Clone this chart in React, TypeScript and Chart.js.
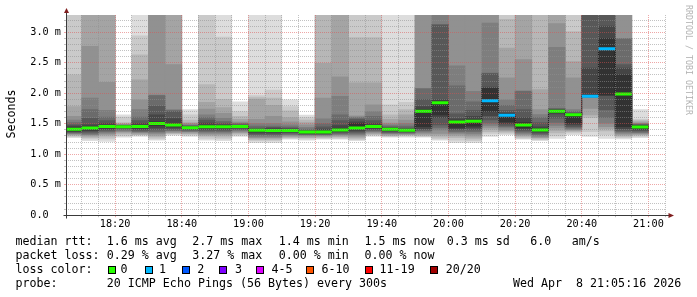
import React, { useEffect, useRef } from 'react';
import { Chart, registerables } from 'chart.js';

Chart.register(...registerables);

// ---------------- data ----------------
const windowStart = '18:05:16';
const windowEnd = '21:05:16';

// end time of each 5-minute sample (35 samples)
const slotEnds = [
  '18:10', '18:15', '18:20', '18:25', '18:30', '18:35', '18:40', '18:45', '18:50', '18:55',
  '19:00', '19:05', '19:10', '19:15', '19:20', '19:25', '19:30', '19:35', '19:40', '19:45',
  '19:50', '19:55', '20:00', '20:05', '20:10', '20:15', '20:20', '20:25', '20:30', '20:35',
  '20:40', '20:45', '20:50', '20:55', '21:00',
];

// median round trip time per sample (ms)
const medianRtt = [
  1.41, 1.43, 1.456, 1.45, 1.456, 1.505, 1.48, 1.434, 1.45, 1.45,
  1.456, 1.393, 1.387, 1.387, 1.362, 1.362, 1.395, 1.428, 1.456, 1.411,
  1.393, 1.705, 1.845, 1.527, 1.541, 1.878, 1.64, 1.48, 1.398, 1.705,
  1.645, 1.949, 2.727, 1.987, 1.447,
];

// lost pings (of 20) per sample
const lostPings = [
  0, 0, 0, 0, 0, 0, 0, 0, 0, 0,
  0, 0, 0, 0, 0, 0, 0, 0, 0, 0,
  0, 0, 0, 0, 0, 1, 1, 0, 0, 0,
  0, 1, 1, 0, 0,
];

// the 20 sorted ping rtts (ms) of each sample; values above the plot top are off-scale
const pingRtts = [
  [1.27, 1.29, 1.30, 1.32, 1.33, 1.34, 1.35, 1.36, 1.37, 1.39, 1.43, 1.46, 1.48, 1.52, 1.56, 1.62, 1.78, 2.30, 3.40, 3.50],
  [1.22, 1.25, 1.27, 1.29, 1.31, 1.32, 1.34, 1.36, 1.38, 1.40, 1.45, 1.48, 1.59, 1.73, 1.92, 2.77, 3.50, 3.50, 3.50, 3.50],
  [1.21, 1.25, 1.28, 1.31, 1.33, 1.35, 1.37, 1.39, 1.41, 1.43, 1.47, 1.50, 1.55, 1.61, 1.72, 2.18, 3.50, 3.50, 3.50, 3.50],
  [1.28, 1.30, 1.33, 1.35, 1.37, 1.38, 1.40, 1.42, 1.43, 1.44, 1.46, 1.465, 1.47, 1.475, 1.48, 1.49, 1.50, 1.52, 1.61, 1.645],
  [1.29, 1.31, 1.32, 1.33, 1.35, 1.36, 1.37, 1.39, 1.41, 1.43, 1.47, 1.50, 1.55, 1.61, 1.73, 1.89, 2.22, 2.63, 2.94, 3.50],
  [1.23, 1.25, 1.28, 1.30, 1.33, 1.35, 1.37, 1.40, 1.43, 1.47, 1.53, 1.645, 1.79, 1.96, 1.97, 3.50, 3.50, 3.50, 3.50, 3.50],
  [1.31, 1.33, 1.34, 1.35, 1.36, 1.38, 1.39, 1.41, 1.43, 1.46, 1.50, 1.585, 1.70, 1.72, 1.73, 2.47, 3.50, 3.50, 3.50, 3.50],
  [1.29, 1.31, 1.33, 1.34, 1.36, 1.37, 1.38, 1.40, 1.41, 1.42, 1.44, 1.45, 1.46, 1.47, 1.48, 1.50, 1.52, 1.56, 1.645, 1.73],
  [1.23, 1.26, 1.29, 1.31, 1.33, 1.35, 1.37, 1.39, 1.41, 1.43, 1.47, 1.51, 1.56, 1.60, 1.645, 1.74, 1.85, 2.14, 3.50, 3.50],
  [1.22, 1.25, 1.28, 1.31, 1.33, 1.35, 1.37, 1.39, 1.41, 1.43, 1.46, 1.48, 1.51, 1.54, 1.59, 1.67, 1.765, 1.90, 2.92, 3.50],
  [1.29, 1.31, 1.33, 1.35, 1.36, 1.38, 1.40, 1.41, 1.43, 1.44, 1.465, 1.47, 1.48, 1.50, 1.51, 1.53, 1.57, 1.62, 1.70, 1.86],
  [1.19, 1.22, 1.24, 1.26, 1.27, 1.29, 1.31, 1.33, 1.35, 1.37, 1.40, 1.41, 1.43, 1.46, 1.50, 1.57, 1.90, 1.93, 1.96, 3.50],
  [1.19, 1.22, 1.24, 1.26, 1.27, 1.29, 1.31, 1.33, 1.35, 1.37, 1.40, 1.42, 1.44, 1.46, 1.50, 1.62, 1.80, 1.92, 2.05, 3.50],
  [1.245, 1.26, 1.27, 1.29, 1.30, 1.32, 1.33, 1.35, 1.36, 1.37, 1.40, 1.41, 1.43, 1.45, 1.48, 1.53, 1.60, 1.71, 1.78, 1.89],
  [1.23, 1.25, 1.27, 1.28, 1.30, 1.31, 1.32, 1.33, 1.34, 1.35, 1.37, 1.38, 1.39, 1.41, 1.44, 1.48, 1.52, 1.56, 1.60, 1.64],
  [1.245, 1.26, 1.27, 1.29, 1.30, 1.31, 1.32, 1.33, 1.34, 1.35, 1.375, 1.41, 1.45, 1.50, 1.58, 1.92, 2.49, 3.50, 3.50, 3.50],
  [1.245, 1.26, 1.28, 1.29, 1.31, 1.32, 1.34, 1.35, 1.37, 1.38, 1.42, 1.47, 1.55, 1.645, 1.95, 2.27, 3.50, 3.50, 3.50, 3.50],
  [1.22, 1.24, 1.26, 1.28, 1.30, 1.32, 1.34, 1.36, 1.38, 1.41, 1.50, 1.53, 1.57, 1.595, 1.61, 1.63, 2.17, 2.91, 3.50, 3.50],
  [1.29, 1.31, 1.32, 1.34, 1.35, 1.37, 1.38, 1.40, 1.42, 1.44, 1.47, 1.50, 1.55, 1.62, 1.70, 1.81, 2.17, 2.91, 3.50, 3.50],
  [1.28, 1.29, 1.30, 1.31, 1.33, 1.34, 1.35, 1.36, 1.38, 1.40, 1.42, 1.43, 1.44, 1.46, 1.48, 1.51, 1.57, 1.645, 1.81, 3.50],
  [1.28, 1.295, 1.31, 1.32, 1.33, 1.34, 1.35, 1.36, 1.37, 1.38, 1.40, 1.41, 1.43, 1.46, 1.50, 1.56, 1.645, 1.73, 1.85, 3.50],
  [1.28, 1.29, 1.30, 1.32, 1.34, 1.36, 1.38, 1.40, 1.42, 1.45, 1.73, 1.78, 1.90, 2.07, 2.08, 3.50, 3.50, 3.50, 3.50, 3.50],
  [1.23, 1.25, 1.28, 1.31, 1.34, 1.40, 1.44, 1.48, 1.60, 1.645, 1.87, 1.89, 3.12, 3.12, 3.50, 3.50, 3.50, 3.50, 3.50, 3.50],
  [1.19, 1.23, 1.27, 1.30, 1.33, 1.35, 1.37, 1.40, 1.42, 1.44, 1.55, 1.58, 1.66, 2.12, 2.45, 3.50, 3.50, 3.50, 3.50, 3.50],
  [1.19, 1.22, 1.25, 1.28, 1.31, 1.34, 1.37, 1.40, 1.43, 1.46, 1.565, 1.62, 1.72, 1.86, 2.03, 3.50, 3.50, 3.50, 3.50, 3.50],
  [1.29, 1.34, 1.37, 1.41, 1.44, 1.47, 1.51, 1.56, 1.63, 1.70, 2.08, 2.10, 2.32, 2.33, 3.15, 3.50, 3.50, 3.50, 3.50, 3.50],
  [1.32, 1.34, 1.36, 1.38, 1.40, 1.43, 1.45, 1.47, 1.50, 1.53, 1.66, 1.68, 1.72, 1.80, 1.89, 2.25, 2.74, 3.21, 3.50, 3.50],
  [1.245, 1.26, 1.28, 1.30, 1.32, 1.34, 1.36, 1.38, 1.41, 1.43, 1.52, 1.60, 1.73, 2.03, 2.04, 2.55, 3.50, 3.50, 3.50, 3.50],
  [1.22, 1.24, 1.25, 1.27, 1.28, 1.30, 1.32, 1.34, 1.36, 1.38, 1.41, 1.45, 1.52, 1.60, 1.65, 1.73, 2.06, 3.50, 3.50, 3.50],
  [1.26, 1.30, 1.35, 1.39, 1.43, 1.47, 1.52, 1.59, 1.66, 1.68, 1.72, 1.73, 1.74, 1.75, 2.75, 3.14, 3.50, 3.50, 3.50, 3.50],
  [1.32, 1.35, 1.37, 1.39, 1.40, 1.41, 1.43, 1.45, 1.48, 1.51, 1.655, 1.665, 1.68, 1.70, 1.73, 2.25, 2.52, 3.01, 3.50, 3.50],
  [1.29, 1.37, 1.60, 1.645, 1.75, 1.93, 1.935, 1.94, 1.942, 1.945, 1.97, 2.41, 3.50, 3.50, 3.50, 3.50, 3.50, 3.50, 3.50, 3.50],
  [1.26, 1.32, 1.38, 1.42, 1.45, 1.51, 1.60, 1.73, 1.96, 1.97, 2.90, 3.10, 3.50, 3.50, 3.50, 3.50, 3.50, 3.50, 3.50, 3.50],
  [1.25, 1.27, 1.29, 1.31, 1.33, 1.35, 1.37, 1.39, 1.42, 1.45, 2.30, 2.41, 2.47, 2.89, 2.90, 3.50, 3.50, 3.50, 3.50, 3.50],
  [1.27, 1.29, 1.31, 1.32, 1.34, 1.35, 1.36, 1.38, 1.40, 1.42, 1.46, 1.47, 1.48, 1.49, 1.50, 1.51, 1.53, 1.55, 1.57, 1.73],
];

const yMaxMs = 3.282;
const xLabelTimes = ['18:20', '18:40', '19:00', '19:20', '19:40', '20:00', '20:20', '20:40', '21:00'];
const yLabelValues = [0, 0.5, 1.0, 1.5, 2.0, 2.5, 3.0];

const lossBuckets = ['0', '1', '2', '3', '4-5', '6-10', '11-19', '20/20'];
const lossBucketMax = [0, 1, 2, 3, 5, 10, 19, 20];
const lossColors = ['#26ff00', '#00b8ff', '#0059ff', '#7e00ff', '#dd00ff', '#ff5500', '#ff0000', '#a10000'];

const rttStats = ['1.6 ms avg', '2.7 ms max', '1.4 ms min', '1.5 ms now', '0.3 ms sd', '6.0', 'am/s'];
const lossStats = ['0.29 % avg', '3.27 % max', '0.00 % min', '0.00 % now'];
const probeText = '20 ICMP Echo Pings (56 Bytes) every 300s';
const stampText = 'Wed Apr  8 21:05:16 2026';
const yAxisTitle = 'Seconds';
const watermark = 'RRDTOOL / TOBI OETIKER';

// ---------------- helpers ----------------
const toSec = (t: string) => {
  const [h, m, s] = t.split(':').map(Number);
  return h * 3600 + m * 60 + (s || 0);
};
const SLOT = 300;
const fmtTime = (sec: number) => {
  const h = Math.floor(sec / 3600);
  const m = Math.floor((sec % 3600) / 60);
  return `${String(h).padStart(2, '0')}:${String(m).padStart(2, '0')}`;
};
const lossColorFor = (lost: number) => {
  const i = lossBucketMax.findIndex((mx) => lost <= mx);
  return lossColors[i < 0 ? lossColors.length - 1 : i];
};
const smokeGrey = (layer: number) => {
  const v = Math.floor((190 / 10) * (10 - layer)) + 50;
  return `rgb(${v},${v},${v})`;
};

const GRID = 'rgba(143,143,143,0.55)';
const MGRID = 'rgba(222,79,79,0.5)';
const MONO = '"DejaVu Sans Mono", monospace';

const axesPlugin = {
  id: 'rrdAxes',
  afterDraw(chart: any) {
    const { ctx, chartArea } = chart;
    const x0 = Math.round(chartArea.left) + 0.5;
    const y0 = Math.floor(chartArea.bottom) + 0.5;
    const x1 = chartArea.right;
    ctx.save();
    ctx.setLineDash([]);
    ctx.strokeStyle = '#3a3a3a';
    ctx.lineWidth = 1;
    ctx.beginPath();
    ctx.moveTo(x0, 12);
    ctx.lineTo(x0, y0 + 3);
    ctx.moveTo(x0 - 3, y0);
    ctx.lineTo(x1 + 3, y0);
    ctx.stroke();
    ctx.fillStyle = 'rgb(128,31,31)';
    ctx.beginPath();
    ctx.moveTo(x0 - 2.5, 13);
    ctx.lineTo(x0 + 2.5, 13);
    ctx.lineTo(x0, 8);
    ctx.closePath();
    ctx.fill();
    ctx.beginPath();
    ctx.moveTo(x1 + 2.5, y0 - 2.5);
    ctx.lineTo(x1 + 2.5, y0 + 2.5);
    ctx.lineTo(x1 + 8, y0);
    ctx.closePath();
    ctx.fill();
    ctx.restore();
  },
};

export default function App() {
  const canvasRef = useRef<HTMLCanvasElement>(null);

  useEffect(() => {
    const canvas = canvasRef.current;
    if (!canvas) return;

    const t0 = toSec(windowStart);
    const t1 = toSec(windowEnd);
    const ends = slotEnds.map(toSec);
    const xLabelSecs = xLabelTimes.map(toSec);

    const xTicks: number[] = [];
    for (let t = ends[0]; t <= t1; t += SLOT) xTicks.push(t);
    const yTicks: number[] = [];
    for (let i = 1; i / 10 < yMaxMs - 0.05; i++) yTicks.push(i / 10);
    yTicks.unshift(0);

    const smokeSets = Array.from({ length: 10 }, (_, li) => {
      const layer = li + 1;
      return {
        type: 'bar' as const,
        label: `smoke${layer}`,
        order: 100 - layer,
        data: pingRtts.map((p, k) => ({ x: ends[k] - SLOT / 2, y: [p[layer - 1], p[20 - layer]] })),
        backgroundColor: smokeGrey(layer),
        borderWidth: 0,
        grouped: false,
        barPercentage: 1,
        categoryPercentage: 1,
        clip: 0,
      };
    });

    const stepData = medianRtt.map((m, k) => ({ x: ends[k] - SLOT, y: m }));
    stepData.push({ x: ends[ends.length - 1], y: medianRtt[medianRtt.length - 1] });

    const medianData: { x: number; y: number | null }[] = [];
    medianRtt.forEach((m, k) => {
      medianData.push({ x: ends[k] - SLOT, y: m });
      medianData.push({ x: ends[k], y: m });
      medianData.push({ x: ends[k], y: null });
    });

    const chart = new Chart(canvas, {
      type: 'bar',
      data: {
        datasets: [
          ...smokeSets,
          {
            type: 'line',
            label: 'median-step',
            order: 5,
            data: stepData,
            borderColor: '#202020',
            borderWidth: 1,
            pointRadius: 0,
            stepped: true,
            clip: 0,
          } as any,
          {
            type: 'line',
            label: 'median',
            order: 1,
            data: medianData,
            borderColor: lossColorFor(0),
            borderWidth: 3,
            borderCapStyle: 'butt',
            pointRadius: 0,
            spanGaps: false,
            clip: 0,
            segment: {
              borderColor: (c: any) => lossColorFor(lostPings[Math.floor(c.p0DataIndex / 3)]),
            },
          } as any,
        ],
      },
      options: {
        responsive: false,
        maintainAspectRatio: false,
        animation: false,
        devicePixelRatio: 1,
        events: [],
        layout: { padding: { top: 15, right: 31, bottom: 0, left: 0 } },
        plugins: { legend: { display: false }, tooltip: { enabled: false } },
        scales: {
          x: {
            type: 'linear',
            min: t0,
            max: t1,
            offset: false,
            afterFit: (s: any) => {
              s.height = 297 - 215.2;
            },
            afterBuildTicks: (s: any) => {
              s.ticks = xTicks.map((v) => ({ value: v }));
            },
            grid: {
              offset: false,
              z: 1,
              lineWidth: 1,
              drawTicks: true,
              tickLength: 2,
              color: (c: any) => (xLabelSecs.includes(c.tick?.value) ? MGRID : GRID),
            },
            border: { display: false, dash: [1, 1] },
            ticks: {
              autoSkip: false,
              maxRotation: 0,
              padding: 1,
              color: '#000',
              font: { family: MONO, size: 10.2, lineHeight: 1.2 },
              callback: (v: any) => (xLabelSecs.includes(Number(v)) ? fmtTime(Number(v)) : ''),
            },
          },
          y: {
            type: 'linear',
            min: 0,
            max: yMaxMs,
            afterFit: (s: any) => {
              s.width = 66;
            },
            afterBuildTicks: (s: any) => {
              s.ticks = yTicks.map((v) => ({ value: v }));
            },
            grid: {
              z: 1,
              lineWidth: 1,
              drawTicks: true,
              tickLength: 2,
              color: (c: any) =>
                yLabelValues.some((lv) => Math.abs(lv - (c.tick?.value ?? -1)) < 1e-6) ? MGRID : GRID,
            },
            border: { display: false, dash: [1, 1] },
            ticks: {
              autoSkip: false,
              padding: 3,
              color: '#000',
              font: { family: MONO, size: 10.2 },
              callback: (v: any) => {
                const n = Number(v);
                if (!yLabelValues.some((lv) => Math.abs(lv - n) < 1e-6)) return '';
                return n === 0 ? '0.0  ' : `${n.toFixed(1)} m`;
              },
            },
          },
        },
      },
      plugins: [axesPlugin],
    } as any);

    return () => chart.destroy();
  }, []);

  const base: React.CSSProperties = {
    position: 'absolute',
    fontFamily: MONO,
    fontSize: '11.65px',
    lineHeight: '14px',
    whiteSpace: 'pre',
    color: '#000',
  };
  const rttX = [106.8, 192.2, 278.8, 364.5, 446.8, 530.2, 571.8];
  const lossX = [106.8, 192.2, 278.8, 364.5];
  const boxX = [108, 145.4, 182.4, 219.2, 256.4, 306.4, 365, 430.4];
  const bucketX = [120.6, 159, 197.2, 234.9, 271.6, 321.6, 379.6, 445.8];

  return (
    <div style={{ position: 'absolute', left: 0, top: 0, width: 697, height: 297, background: '#fff', overflow: 'hidden' }}>
      <canvas ref={canvasRef} width={697} height={297} style={{ position: 'absolute', left: 0, top: 0, display: 'block' }} />
      <div
        style={{ ...base, left: 10.97 - 30, top: 113.8 - 7, width: 60, height: 14, textAlign: 'center', transform: 'rotate(-90deg)' }}
      >
        {yAxisTitle}
      </div>
      <div
        style={{
          ...base,
          fontSize: '8.3px',
          lineHeight: '10px',
          color: '#b3b3b3',
          left: 688.5 - 60,
          top: 60 - 5,
          width: 120,
          height: 10,
          textAlign: 'center',
          transform: 'rotate(90deg)',
        }}
      >
        {watermark}
      </div>

      <div style={{ ...base, left: 15.5, top: 234 }}>median rtt:</div>
      {rttStats.map((s, i) => (
        <div key={`r${i}`} style={{ ...base, left: rttX[i], top: 234 }}>{s}</div>
      ))}

      <div style={{ ...base, left: 15.5, top: 248 }}>packet loss:</div>
      {lossStats.map((s, i) => (
        <div key={`l${i}`} style={{ ...base, left: lossX[i], top: 248 }}>{s}</div>
      ))}

      <div style={{ ...base, left: 15.5, top: 262 }}>loss color:</div>
      {lossBuckets.map((b, i) => (
        <React.Fragment key={`b${i}`}>
          <div
            style={{
              position: 'absolute',
              left: boxX[i],
              top: 265.5,
              width: 8,
              height: 8,
              boxSizing: 'border-box',
              border: '1px solid #000',
              background: lossColors[i],
            }}
          />
          <div style={{ ...base, left: bucketX[i], top: 262 }}>{b}</div>
        </React.Fragment>
      ))}

      <div style={{ ...base, left: 15.5, top: 276 }}>probe:</div>
      <div style={{ ...base, left: 106.8, top: 276 }}>{probeText}</div>
      <div style={{ ...base, left: 513, top: 276 }}>{stampText}</div>
    </div>
  );
}
